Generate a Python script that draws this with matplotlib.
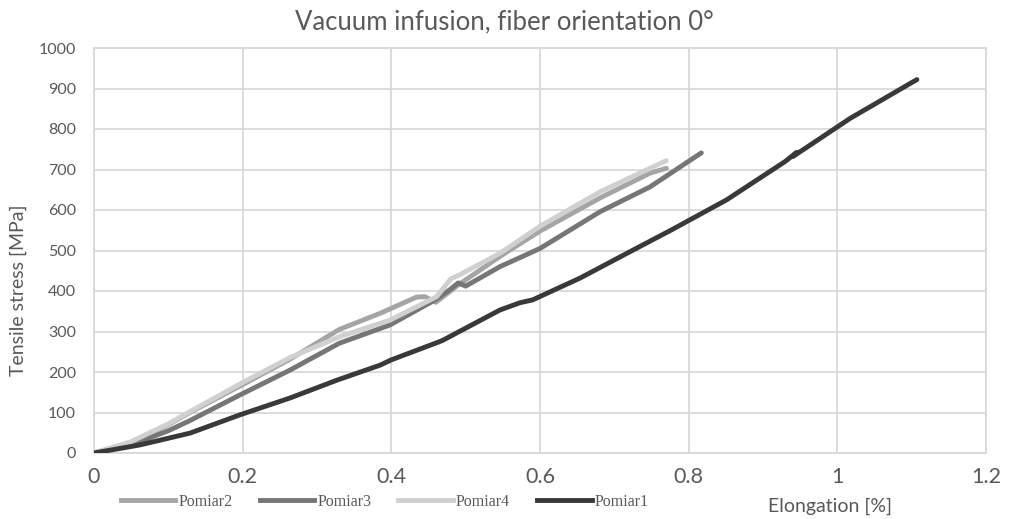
import matplotlib
matplotlib.use("Agg")
import matplotlib.pyplot as plt
from matplotlib.lines import Line2D

plt.rcParams['font.family'] = ['Lato', 'DejaVu Sans']

# Data (elongation %, tensile stress MPa)
p2_x = [0, 0.05, 0.10, 0.129, 0.196, 0.264, 0.33, 0.385, 0.434, 0.445, 0.46, 0.49, 0.55, 0.60, 0.681, 0.748, 0.77]
p2_y = [0, 25, 70, 100, 165, 232, 305, 345, 385, 386, 372, 415, 490, 548, 630, 691, 703]

p3_x = [0, 0.05, 0.10, 0.129, 0.196, 0.264, 0.33, 0.398, 0.461, 0.48, 0.49, 0.50, 0.546, 0.60, 0.681, 0.748, 0.817]
p3_y = [0, 20, 55, 80, 143, 205, 271, 316, 380, 405, 420, 412, 460, 505, 596, 657, 741]

p4_x = [0, 0.05, 0.10, 0.129, 0.196, 0.264, 0.33, 0.398, 0.461, 0.48, 0.492, 0.546, 0.60, 0.681, 0.748, 0.77]
p4_y = [0, 28, 72, 102, 170, 236, 287, 328, 386, 430, 440, 493, 560, 645, 703, 722]

p1_x = [0, 0.062, 0.129, 0.196, 0.264, 0.327, 0.385, 0.40, 0.465, 0.47, 0.546, 0.573, 0.59, 0.654, 0.721, 0.777, 0.851, 0.93, 0.945, 0.94, 0.955, 1.017, 1.107]
p1_y = [0, 20, 49, 94, 136, 180, 217, 230, 275, 279, 353, 371, 378, 432, 497, 551, 625, 720, 742, 732, 750, 826, 922]

series_names = ["Pomiar2", "Pomiar3", "Pomiar4", "Pomiar1"]
x_ticks = [0, 0.2, 0.4, 0.6, 0.8, 1, 1.2]
x_tick_labels = ["0", "0.2", "0.4", "0.6", "0.8", "1", "1.2"]
y_ticks = list(range(0, 1001, 100))

colors = {"Pomiar2": "#a5a5a5", "Pomiar3": "#767676", "Pomiar4": "#d0d0d0", "Pomiar1": "#3a3838"}

fig = plt.figure(figsize=(10.09, 5.19), dpi=100)
ax = fig.add_axes([94/1009, 1-453/519, (986-94)/1009, (453-48)/519])

data = {"Pomiar2": (p2_x, p2_y), "Pomiar3": (p3_x, p3_y), "Pomiar4": (p4_x, p4_y), "Pomiar1": (p1_x, p1_y)}
for name in ["Pomiar2", "Pomiar3", "Pomiar4", "Pomiar1"]:
    xs, ys = data[name]
    ax.plot(xs, ys, color=colors[name], lw=3.5, solid_capstyle='round', solid_joinstyle='round', zorder=3)

ax.set_xlim(0, 1.2)
ax.set_ylim(0, 1000)
ax.set_xticks(x_ticks)
ax.set_xticklabels(x_tick_labels)
ax.set_yticks(y_ticks)
ax.grid(True, color="#d9d9d9", lw=1.3, zorder=0)
ax.set_axisbelow(True)
for s in ax.spines.values():
    s.set_color("#d9d9d9")
    s.set_linewidth(1.3)
ax.tick_params(axis='both', length=0, colors="#595959")
ax.tick_params(axis='y', labelsize=11.5, pad=13)
ax.tick_params(axis='x', labelsize=15.5, pad=10)

fig.text(18/1009, 1-290/519, "Tensile stress [MPa]", fontsize=14, color="#595959",
         ha='center', va='center', rotation=90)
fig.text(830/1009, 1-506/519, "Elongation [%]", fontsize=14, color="#595959", ha='center', va='center')
fig.text(0.5, 1-22/519, "Vacuum infusion, fiber orientation 0°", fontsize=18.5, color="#595959", ha='center', va='center')

handles = [Line2D([0], [0], color=colors[n], lw=3.5) for n in series_names]
fig.legend(handles, series_names, loc='center left', bbox_to_anchor=(121/1009, 1-502/519), ncol=4,
           frameon=False, prop={'family': 'Liberation Serif', 'size': 11.5}, handlelength=3.4,
           handletextpad=0.2, columnspacing=1.7, labelcolor="#595959", borderaxespad=0, borderpad=0)

fig.savefig("out.png", dpi=100)
